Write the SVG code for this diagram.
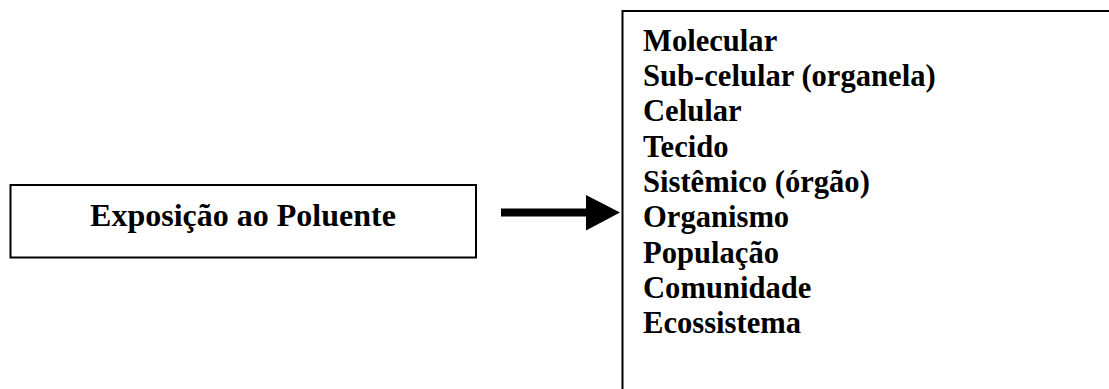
<svg xmlns="http://www.w3.org/2000/svg" width="1109" height="389" viewBox="0 0 1109 389">
<defs>
<style>
.box{fill:#fff;stroke:#000;stroke-width:2}
.t{font-family:"Liberation Serif","Times New Roman",serif;font-weight:bold;font-size:30.6px;fill:#000}
.big{font-size:32px}
</style>
</defs>
<rect width="1109" height="389" fill="#fff"/>
<g id="node-exposicao">
<rect class="box" x="10.5" y="185" width="465.5" height="72.5"/>
<text class="t big" x="243" y="225.5" text-anchor="middle">Exposição ao Poluente</text>
</g>
<g id="node-niveis">
<path class="box" d="M622.5,400 L622.5,11 L1115,11"/>
<text class="t" x="643" y="50.7">Molecular</text>
<text class="t" x="643" y="86">Sub-celular (organela)</text>
<text class="t" x="643" y="121.3">Celular</text>
<text class="t" x="643" y="156.6">Tecido</text>
<text class="t" x="643" y="191.9">Sistêmico (órgão)</text>
<text class="t" x="643" y="227.2">Organismo</text>
<text class="t" x="643" y="262.5">População</text>
<text class="t" x="643" y="297.8">Comunidade</text>
<text class="t" x="643" y="333.1">Ecossistema</text>
</g>
<g id="connectors">
<line x1="501" y1="212.5" x2="586" y2="212.5" stroke="#000" stroke-width="8"/>
<path d="M586,195 L620,212.5 L586,230.5 Z" fill="#000"/>
</g>
</svg>
